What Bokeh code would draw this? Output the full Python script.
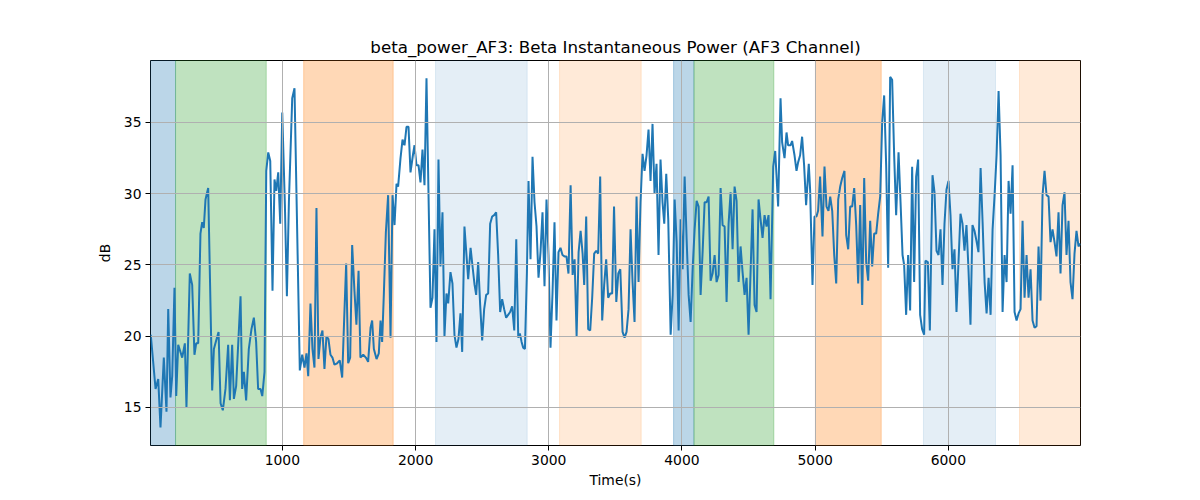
from bokeh.plotting import figure
from bokeh.models import BoxAnnotation, Range1d, FixedTicker
from bokeh.embed import file_html
from bokeh.resources import INLINE

# --- data ---
times = [12, 48, 68, 85, 110, 130, 143, 160, 173, 190, 203, 218, 248, 268, 280, 305, 323, 340, 353, 368,
         385, 398, 410, 423, 443, 473, 486, 503, 521, 536, 553, 573, 593, 606, 623, 636, 653, 686, 698, 711,
         728, 748, 768, 786, 803, 818, 836, 849, 866, 879, 894, 909, 926, 941, 954, 969, 984, 999, 1019, 1034,
         1049, 1074, 1091, 1131, 1149, 1166, 1181, 1194, 1211, 1226, 1241, 1256, 1271, 1286, 1301, 1316, 1331, 1346, 1361, 1376,
         1391, 1411, 1431, 1449, 1464, 1479, 1494, 1509, 1524, 1541, 1556, 1572, 1586, 1607, 1627, 1644, 1662, 1674, 1687, 1707,
         1724, 1737, 1749, 1762, 1777, 1794, 1812, 1827, 1842, 1857, 1869, 1887, 1902, 1917, 1932, 1947, 1962, 1980, 1992, 2007,
         2022, 2037, 2052, 2067, 2082, 2112, 2127, 2142, 2157, 2172, 2187, 2202, 2217, 2232, 2245, 2262, 2277, 2292, 2307, 2322,
         2337, 2350, 2367, 2395, 2413, 2430, 2443, 2455, 2470, 2485, 2500, 2515, 2530, 2545, 2560, 2575, 2590, 2605, 2620, 2635,
         2650, 2665, 2680, 2695, 2710, 2725, 2741, 2756, 2771, 2783, 2796, 2808, 2821, 2836, 2848, 2863, 2878, 2893, 2908, 2923,
         2938, 2953, 2968, 2983, 2998, 3013, 3028, 3043, 3058, 3073, 3088, 3103, 3118, 3133, 3148, 3164, 3179, 3194, 3209, 3224,
         3239, 3254, 3266, 3281, 3296, 3311, 3326, 3341, 3356, 3371, 3386, 3401, 3416, 3431, 3446, 3461, 3476, 3490, 3507, 3522,
         3537, 3554, 3569, 3584, 3599, 3614, 3629, 3644, 3659, 3674, 3689, 3704, 3719, 3734, 3749, 3764, 3779, 3794, 3809, 3824,
         3839, 3854, 3867, 3882, 3897, 3915, 3930, 3945, 3960, 3975, 3990, 4005, 4020, 4035, 4050, 4065, 4080, 4095, 4110, 4125,
         4140, 4155, 4170, 4185, 4200, 4215, 4230, 4245, 4260, 4275, 4290, 4305, 4320, 4335, 4350, 4365, 4380, 4395, 4410, 4425,
         4440, 4455, 4470, 4485, 4500, 4515, 4530, 4545, 4560, 4575, 4590, 4605, 4620, 4635, 4650, 4665, 4685, 4700, 4722, 4740,
         4752, 4770, 4785, 4797, 4815, 4827, 4845, 4860, 4872, 4887, 4902, 4917, 4932, 4952, 4962, 4980, 4995, 5010, 5022, 5037,
         5055, 5070, 5085, 5100, 5113, 5128, 5143, 5158, 5173, 5188, 5203, 5220, 5233, 5248, 5263, 5278, 5293, 5308, 5323, 5338,
         5353, 5368, 5383, 5398, 5413, 5428, 5443, 5458, 5473, 5488, 5503, 5518, 5533, 5548, 5563, 5578, 5593, 5608, 5626, 5641,
         5656, 5668, 5683, 5698, 5713, 5728, 5743, 5758, 5773, 5788, 5803, 5818, 5828, 5846, 5861, 5881, 5896, 5911, 5926, 5941,
         5956, 5971, 5986, 6001, 6016, 6031, 6046, 6061, 6076, 6091, 6106, 6121, 6136, 6151, 6166, 6181, 6196, 6211, 6226, 6242,
         6257, 6272, 6287, 6302, 6317, 6332, 6347, 6362, 6377, 6392, 6407, 6422, 6437, 6452, 6467, 6482, 6497, 6512, 6527, 6542,
         6557, 6572, 6587, 6602, 6617, 6632, 6647, 6662, 6677, 6692, 6707, 6722, 6737, 6752, 6767, 6782, 6797, 6812, 6827, 6842,
         6857, 6872, 6887, 6902, 6917, 6932, 6947, 6962, 6977, 6992]

beta_db = [20.1, 16.3, 17.0, 13.6, 18.5, 14.7, 21.9, 15.7, 17.2, 23.4, 15.8, 19.4, 18.5, 19.5, 15.0, 24.4, 23.6, 18.7, 19.5, 19.5,
           27.2, 28.0, 27.6, 29.6, 30.4, 16.2, 19.1, 19.7, 20.3, 15.3, 14.8, 16.3, 19.4, 15.5, 19.4, 15.6, 16.5, 22.8, 16.3, 17.5,
           15.5, 19.1, 20.5, 21.3, 19.6, 16.3, 16.3, 15.8, 17.5, 31.6, 32.9, 32.3, 23.2, 31.0, 30.2, 31.5, 27.9, 35.7, 29.2, 22.8,
           29.4, 36.7, 37.4, 17.6, 18.7, 17.8, 18.8, 17.2, 22.3, 19.1, 17.8, 29.0, 18.4, 19.9, 20.4, 17.7, 20.0, 19.8, 18.7, 18.5,
           18.0, 18.1, 18.3, 17.1, 21.2, 25.1, 18.1, 18.5, 26.4, 23.2, 20.8, 24.6, 18.5, 18.7, 18.5, 18.2, 20.6, 21.1, 19.1, 18.4,
           18.8, 21.1, 19.6, 23.0, 27.3, 29.9, 19.9, 29.9, 27.8, 30.7, 30.5, 32.5, 33.8, 33.4, 34.7, 34.7, 31.5, 32.7, 33.4, 32.0,
           32.0, 30.8, 33.1, 30.6, 38.1, 22.0, 22.7, 27.5, 19.6, 32.4, 24.9, 28.7, 20.0, 23.0, 22.3, 24.5, 23.7, 20.1, 19.2, 19.8,
           21.6, 18.9, 27.7, 24.0, 26.2, 24.7, 23.6, 22.9, 25.2, 22.2, 19.7, 21.9, 22.9, 23.0, 27.9, 28.4, 28.5, 28.7, 25.7, 21.7,
           22.6, 21.9, 21.3, 21.5, 21.7, 22.1, 20.4, 26.8, 19.9, 20.2, 19.6, 19.2, 19.1, 24.5, 30.9, 25.4, 32.6, 29.4, 27.7, 24.1,
           25.9, 28.7, 23.5, 29.6, 25.7, 19.2, 23.0, 28.0, 21.1, 25.9, 26.2, 25.7, 25.6, 25.6, 24.4, 30.6, 24.3, 25.4, 20.0, 25.9,
           27.4, 25.8, 23.6, 28.4, 20.5, 20.4, 22.7, 25.8, 26.0, 25.8, 31.2, 21.1, 23.6, 25.4, 22.7, 23.0, 23.0, 29.1, 22.4, 24.4,
           24.7, 20.3, 19.9, 20.3, 21.9, 27.5, 23.8, 21.0, 29.8, 23.8, 29.4, 32.8, 31.6, 32.7, 34.5, 30.9, 34.9, 30.0, 32.1, 25.7,
           32.4, 29.4, 27.9, 31.4, 28.2, 20.1, 22.9, 29.6, 26.6, 20.4, 28.2, 24.7, 31.2, 26.8, 22.9, 21.0, 24.7, 27.5, 29.5, 29.1,
           22.9, 25.9, 29.4, 29.4, 29.8, 23.9, 24.4, 25.7, 23.8, 24.3, 30.4, 27.8, 27.7, 22.4, 27.9, 30.1, 26.1, 30.5, 29.5, 23.8,
           26.3, 24.5, 22.9, 24.1, 20.1, 24.5, 28.9, 22.2, 21.7, 29.6, 28.2, 26.9, 28.5, 27.7, 28.5, 22.6, 31.9, 33.0, 29.1, 36.7,
           33.6, 32.5, 34.3, 33.4, 33.4, 33.7, 32.7, 31.6, 32.2, 32.7, 34.0, 32.0, 29.2, 32.1, 30.3, 23.6, 28.4, 28.4, 28.8, 31.2,
           27.0, 31.9, 29.1, 28.8, 29.8, 28.8, 25.7, 23.7, 29.6, 30.5, 31.1, 31.6, 27.1, 26.1, 29.1, 29.1, 30.4, 27.8, 23.7, 29.2,
           22.2, 31.1, 25.2, 23.9, 28.1, 24.9, 27.2, 27.2, 28.6, 29.8, 35.0, 36.9, 32.0, 24.8, 38.2, 38.0, 32.7, 28.5, 32.9, 29.4,
           25.7, 25.0, 21.5, 25.7, 21.8, 31.9, 23.8, 31.2, 32.4, 21.5, 20.5, 20.1, 25.3, 25.2, 20.4, 31.3, 30.1, 26.0, 25.7, 27.5,
           23.6, 27.9, 30.3, 30.9, 28.5, 24.7, 26.1, 21.7, 25.2, 28.6, 27.9, 26.0, 27.8, 24.7, 20.8, 27.8, 27.4, 26.7, 25.9, 31.8,
           28.0, 23.8, 21.6, 24.1, 21.5, 27.5, 29.9, 32.7, 37.2, 32.7, 21.7, 25.7, 23.8, 30.9, 28.6, 32.0, 21.7, 21.1, 21.6, 21.9,
           28.1, 22.7, 25.7, 22.7, 24.7, 21.1, 20.6, 20.7, 26.3, 22.5, 29.9, 31.6, 29.9, 29.8, 26.6, 27.5, 26.6, 25.6, 28.7, 24.4,
           29.2, 30.1, 25.7, 28.1, 23.8, 22.6, 25.8, 27.4, 26.3, 26.5]

band_start = [10, 198, 1160, 2150, 3081, 3937, 4090, 5002, 5813, 6534]
band_end = [198, 879, 1832, 2838, 3694, 4090, 4690, 5496, 6354, 6992]
band_color = ["#1f77b4", "#2ca02c", "#ff7f0e", "#1f77b4", "#ff7f0e",
              "#1f77b4", "#2ca02c", "#ff7f0e", "#1f77b4", "#ff7f0e"]
band_alpha = [0.3, 0.3, 0.3, 0.12, 0.16, 0.3, 0.3, 0.3, 0.12, 0.16]

x_ticks = [1000, 2000, 3000, 4000, 5000, 6000]
y_ticks = [15, 20, 25, 30, 35]

FONT = "DejaVu Sans"

p = figure(
    output_backend="svg", toolbar_location=None,
    frame_width=930, frame_height=385,
    min_border_left=150, min_border_right=110, min_border_top=60, min_border_bottom=48,
    x_range=Range1d(10, 6992), y_range=Range1d(12.33, 39.35),
    title="beta_power_AF3: Beta Instantaneous Power (AF3 Channel)",
)

p.background_fill_color = "white"
p.border_fill_color = "white"
p.outline_line_color = "black"
p.outline_line_width = 1

p.title.align = "center"
p.title.text_font = FONT
p.title.text_font_size = "16.7px"
p.title.text_font_style = "normal"
p.title.text_color = "black"
p.title.standoff = 8

for s, e, c, a in zip(band_start, band_end, band_color, band_alpha):
    p.add_layout(BoxAnnotation(left=s, right=e, fill_color=c, fill_alpha=a,
                               line_color=c, line_alpha=a, line_width=1, level="underlay"))

p.line(times, beta_db, line_color="#1f77b4", line_width=2)

p.xgrid.ticker = FixedTicker(ticks=x_ticks)
p.ygrid.ticker = FixedTicker(ticks=y_ticks)
for g in (p.xgrid, p.ygrid):
    g.grid_line_color = "#b0b0b0"
    g.grid_line_width = 1
    g.level = "glyph"

p.xaxis.ticker = FixedTicker(ticks=x_ticks)
p.yaxis.ticker = FixedTicker(ticks=y_ticks)
p.xaxis.axis_label = "Time(s)"
p.yaxis.axis_label = "dB"
for ax in (p.xaxis, p.yaxis):
    ax.axis_line_color = None
    ax.major_tick_line_color = "black"
    ax.major_tick_out = 5
    ax.major_tick_in = 0
    ax.minor_tick_line_color = None
    ax.major_label_text_font = FONT
    ax.major_label_text_font_size = "13.9px"
    ax.major_label_text_color = "black"
    ax.axis_label_text_font = FONT
    ax.axis_label_text_font_size = "13.9px"
    ax.axis_label_text_font_style = "normal"
    ax.axis_label_text_color = "black"
p.xaxis.major_label_standoff = 4
p.yaxis.major_label_standoff = 4
p.xaxis.axis_label_standoff = 4
p.yaxis.axis_label_standoff = 8

open("out.html", "w").write(file_html(p, INLINE))
